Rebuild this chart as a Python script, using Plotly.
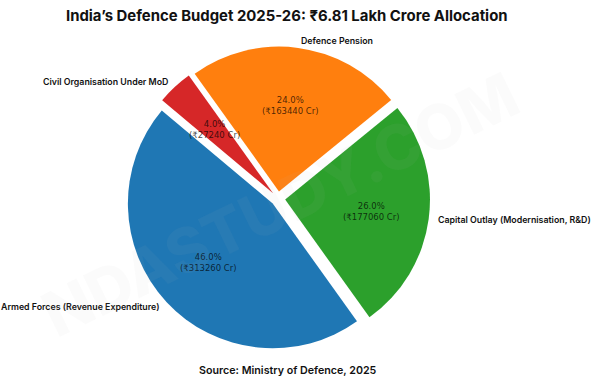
import math
import plotly.graph_objects as go

# ---- data ----
categories = ["Armed Forces (Revenue Expenditure)", "Capital Outlay (Modernisation, R&D)",
              "Defence Pension", "Civil Organisation Under MoD"]
shares = [46.0, 26.0, 24.0, 4.0]
amounts_cr = [313260, 177060, 163440, 27240]
colors = ["#1f77b4", "#2ca02c", "#ff7f0e", "#d62728"]

title_text = "India’s Defence Budget 2025-26: ₹6.81 Lakh Crore Allocation"
source_text = "Source: Ministry of Defence, 2025"
watermark = "NDASTUDY.COM"

# ---- layout geometry ----
W, H = 596, 385
CX, CY = 278.0, 198.6      # pie centre in pixels (y down)
R = 144.8                  # pie radius in pixels
PULL = 0.05
START = 140.0              # degrees, counter-clockwise from +x

half = R * (1 + PULL)
dom_x = [(CX - half) / W, (CX + half) / W]
dom_y = [1 - (CY + half) / H, 1 - (CY - half) / H]

total = sum(shares)
first_span = 360 * shares[0] / total

fig = go.Figure(go.Pie(
    labels=categories, values=shares, sort=False,
    direction="counterclockwise", rotation=-(START - 90) - first_span,
    pull=[PULL] * len(shares),
    marker=dict(colors=colors, line=dict(width=0)),
    textinfo="none", hoverinfo="label+percent", showlegend=False,
    domain=dict(x=dom_x, y=dom_y),
))

def to_paper(px, py):
    return px / W, 1 - py / H

ang = START
annotations = []
for cat, s, amt in zip(categories, shares, amounts_cr):
    span = 360 * s / total
    mid = math.radians(ang + span / 2)
    ang += span
    # percentage label inside
    d = (0.6 + PULL) * R
    x, y = to_paper(CX + d * math.cos(mid), CY - d * math.sin(mid))
    annotations.append(dict(
        x=x, y=y, xref="paper", yref="paper", showarrow=False,
        text=f"{s:.1f}%<br>(₹{amt} Cr)", align="center",
        font=dict(family="DejaVu Sans", size=8.5, color="rgba(0,0,0,0.72)"),
        xanchor="center", yanchor="middle"))
    # category label outside
    d = 1.1 * R
    px = CX + d * math.cos(mid)
    x, y = to_paper(px, CY - d * math.sin(mid))
    annotations.append(dict(
        x=x, y=y, xref="paper", yref="paper", showarrow=False,
        text=cat, font=dict(family="Inter", size=8.8, weight=600, color="#111111"),
        xanchor="left" if math.cos(mid) > 0 else "right", yanchor="middle"))

# title and source
annotations.append(dict(x=287 / W, y=1 - 16 / H, xref="paper", yref="paper", showarrow=False,
                        text=title_text, xanchor="center", yanchor="middle",
                        font=dict(family="Inter", size=14.9, weight=700, color="#111111")))
annotations.append(dict(x=288 / W, y=1 - 370 / H, xref="paper", yref="paper", showarrow=False,
                        text=source_text, xanchor="center", yanchor="middle",
                        font=dict(family="Inter", size=10.7, weight=600, color="#111111")))
# watermark
annotations.append(dict(x=280 / W, y=1 - 205 / H, xref="paper", yref="paper", showarrow=False,
                        text=watermark, textangle=-26, xanchor="center", yanchor="middle",
                        font=dict(family="Inter", size=62, weight=800, color="rgba(190,190,190,0.06)")))

fig.update_layout(
    width=W, height=H, margin=dict(l=0, r=0, t=0, b=0),
    paper_bgcolor="white", plot_bgcolor="white",
    annotations=annotations,
)
fig.write_html("out.html", config={"displayModeBar": False},
               post_script="document.body.style.margin='0';document.body.style.overflow='hidden';")
